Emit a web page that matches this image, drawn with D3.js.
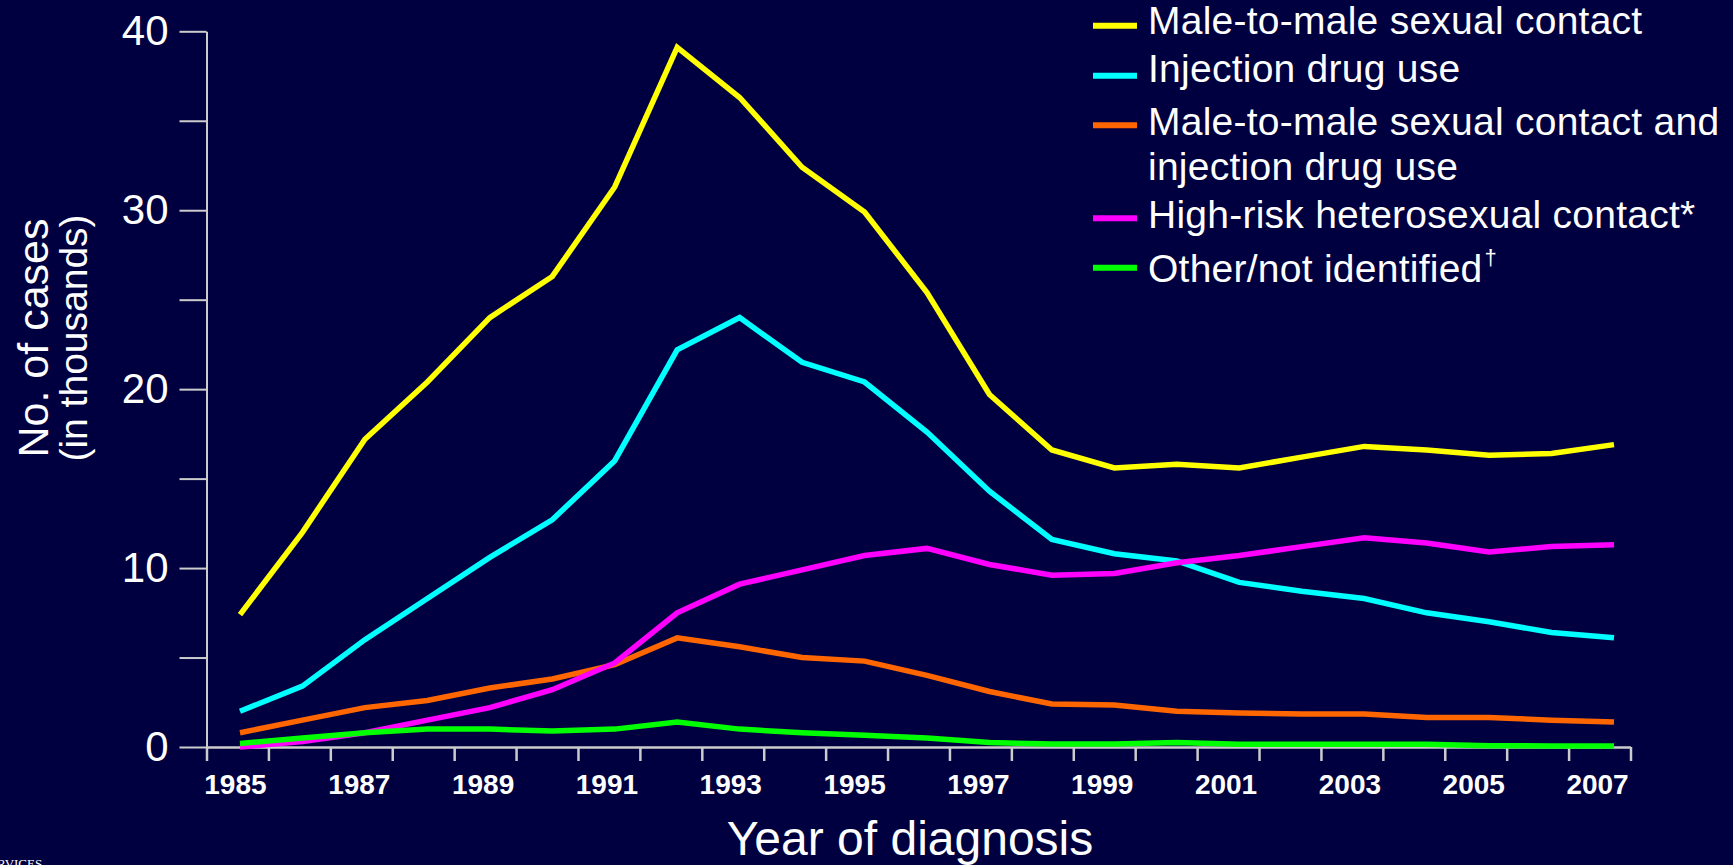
<!DOCTYPE html>
<html>
<head>
<meta charset="utf-8">
<script src="https://cdn.jsdelivr.net/npm/d3@7"></script>
<style>
  html, body { margin: 0; padding: 0; background: #000040; }
  svg { display: block; font-family: "Liberation Sans", Arial, sans-serif; }
</style>
</head>
<body>
<script>
// years of diagnosis
const years = d3.range(1985, 2008);

// no. of cases, in thousands
const msm = [7.4, 12.0, 17.2, 20.4, 24.0, 26.3, 31.3, 39.1, 36.3, 32.4, 29.9, 25.4, 19.7, 16.6, 15.6, 15.8, 15.6, 16.2, 16.8, 16.6, 16.3, 16.4, 16.9];
const idu = [2.0, 3.4, 6.0, 8.3, 10.6, 12.7, 16.0, 22.2, 24.0, 21.5, 20.4, 17.6, 14.3, 11.6, 10.8, 10.4, 9.2, 8.7, 8.3, 7.5, 7.0, 6.4, 6.1];
const msmIdu = [0.8, 1.5, 2.2, 2.6, 3.3, 3.8, 4.6, 6.1, 5.6, 5.0, 4.8, 4.0, 3.1, 2.4, 2.35, 2.0, 1.9, 1.85, 1.85, 1.65, 1.65, 1.5, 1.4];
const hetero = [0.0, 0.3, 0.8, 1.5, 2.2, 3.2, 4.7, 7.5, 9.1, 9.9, 10.7, 11.1, 10.2, 9.6, 9.7, 10.3, 10.7, 11.2, 11.7, 11.4, 10.9, 11.2, 11.3];
const other = [0.2, 0.5, 0.8, 1.0, 1.0, 0.9, 1.0, 1.4, 1.0, 0.8, 0.65, 0.5, 0.25, 0.17, 0.17, 0.25, 0.15, 0.15, 0.15, 0.15, 0.07, 0.06, 0.06];

const seriesNames = [
  ["Male-to-male sexual contact"],
  ["Injection drug use"],
  ["Male-to-male sexual contact and", "injection drug use"],
  ["High-risk heterosexual contact*"],
  ["Other/not identified"]
];
const seriesColors = ["#ffff00", "#00ffff", "#ff6600", "#ff00ff", "#00ff00"];
const seriesValues = [msm, idu, msmIdu, hetero, other];

const yTicks = [0, 5, 10, 15, 20, 25, 30, 35, 40];
const xLabelYears = years.filter(y => y % 2 === 1);

const width = 1733, height = 865;
const axisColor = "#cccccc";

const svg = d3.select("body").append("svg")
    .attr("width", width)
    .attr("height", height);

svg.append("rect")
    .attr("width", width)
    .attr("height", height)
    .attr("fill", "#000040");

// scales
const y = d3.scaleLinear().domain([0, 40]).range([747, 31.3]);
const xData = d3.scalePoint().domain(years).range([240, 1614]);
const xAxisScale = d3.scaleLinear().domain([1984.5, 2007.5]).range([206.5, 1630.5]);

// y axis
const yAxis = svg.append("g")
    .attr("transform", "translate(206.5,0)")
    .call(d3.axisLeft(y)
        .tickValues(yTicks)
        .tickSize(27)
        .tickSizeOuter(0)
        .tickPadding(11)
        .tickFormat(d => d % 10 === 0 ? d : ""));
yAxis.select(".domain").attr("stroke", axisColor).attr("stroke-width", 2);
yAxis.selectAll(".tick line").attr("stroke", axisColor).attr("stroke-width", 2);
yAxis.selectAll(".tick text")
    .attr("fill", "#ffffff")
    .style("font-size", "42px")
    .style("font-family", "'Liberation Sans', Arial, sans-serif");

// x axis (ticks between years)
const xAxis = svg.append("g")
    .attr("transform", "translate(0,747)")
    .call(d3.axisBottom(xAxisScale)
        .tickValues(d3.range(1984.5, 2008, 1))
        .tickSize(14)
        .tickSizeOuter(0)
        .tickFormat(""));
xAxis.select(".domain").attr("stroke", axisColor).attr("stroke-width", 2.5);
xAxis.selectAll(".tick line").attr("stroke", axisColor).attr("stroke-width", 2.5);

svg.append("g")
    .selectAll("text")
    .data(xLabelYears)
    .enter().append("text")
    .attr("x", d => xAxisScale(d) - 2)
    .attr("y", 794)
    .attr("text-anchor", "middle")
    .attr("fill", "#ffffff")
    .style("font-size", "28px")
    .style("font-weight", "bold")
    .text(d => d);

// axis titles
svg.append("text")
    .attr("x", 910)
    .attr("y", 855)
    .attr("text-anchor", "middle")
    .attr("fill", "#ffffff")
    .style("font-size", "48px")
    .text("Year of diagnosis");

svg.append("text")
    .attr("transform", "translate(48,338) rotate(-90)")
    .attr("text-anchor", "middle")
    .attr("fill", "#ffffff")
    .style("font-size", "43px")
    .text("No. of cases");

svg.append("text")
    .attr("transform", "translate(87,338) rotate(-90)")
    .attr("text-anchor", "middle")
    .attr("fill", "#ffffff")
    .style("font-size", "39px")
    .text("(in thousands)");

// lines
const line = d3.line()
    .x((d, i) => xData(years[i]))
    .y(d => y(d));

svg.append("g")
    .selectAll("path")
    .data(seriesValues)
    .enter().append("path")
    .attr("d", d => line(d))
    .attr("fill", "none")
    .attr("stroke", (d, i) => seriesColors[i])
    .attr("stroke-width", 5.5)
    .attr("stroke-linejoin", "miter");

// legend
const swatchY = [25.7, 75.7, 125.3, 218.3, 267.7];
const textY = [34.3, 81.7, 135, 227.7, 281.7];
const legend = svg.append("g");

legend.selectAll("line")
    .data(seriesColors)
    .enter().append("line")
    .attr("x1", 1093)
    .attr("x2", 1137)
    .attr("y1", (d, i) => swatchY[i])
    .attr("y2", (d, i) => swatchY[i])
    .attr("stroke", d => d)
    .attr("stroke-width", 6);

const legendText = legend.selectAll("text")
    .data(seriesNames)
    .enter().append("text")
    .attr("x", 1148)
    .attr("y", (d, i) => textY[i])
    .attr("fill", "#ffffff")
    .style("font-size", "39px")
    .style("letter-spacing", "0.25px");

legendText.each(function (lines) {
    const t = d3.select(this);
    lines.forEach((s, j) => {
        t.append("tspan")
            .attr("x", 1148)
            .attr("dy", j === 0 ? 0 : 45)
            .text(s);
    });
});

// dagger footnote mark on the last entry
legendText.filter((d, i) => i === 4)
    .append("tspan")
    .attr("dy", -17)
    .attr("dx", 2)
    .style("font-size", "22px")
    .text("\u2020");

// logo text cut off at the bottom left corner, as in the original slide
svg.append("text")
    .attr("x", -3)
    .attr("y", 868)
    .attr("fill", "#ffffff")
    .style("font-family", "'Liberation Serif', serif")
    .style("font-size", "13px")
    .text("RVICES");
</script>
</body>
</html>
